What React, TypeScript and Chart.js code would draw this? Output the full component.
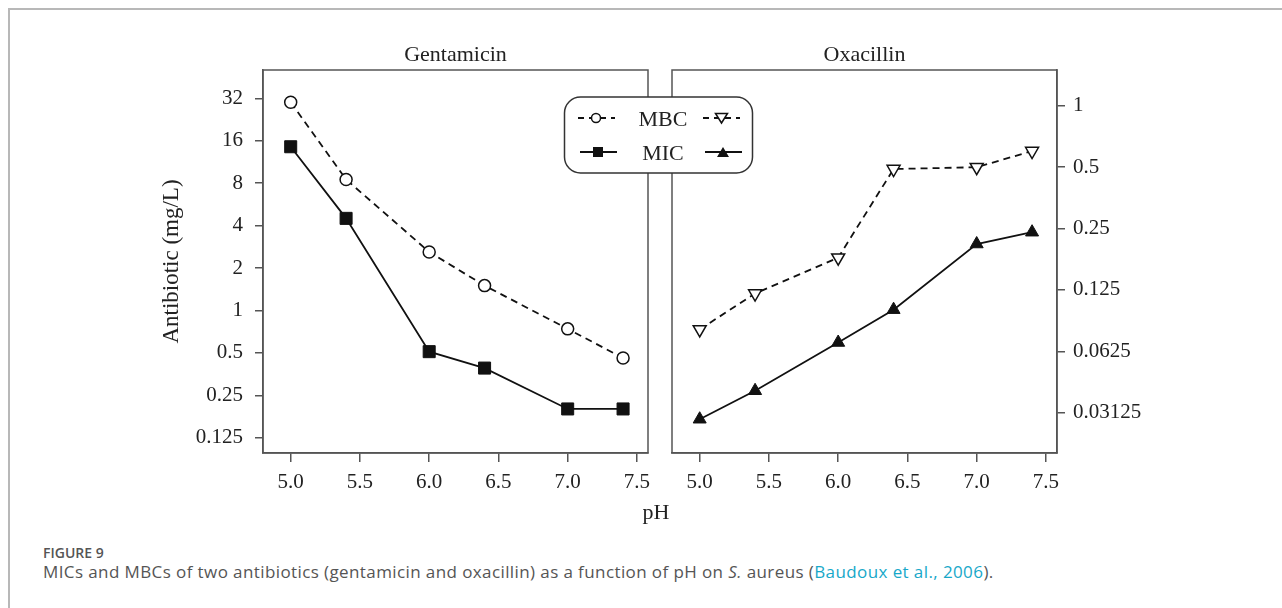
import React, { useEffect, useRef } from "react";
import { Chart, registerables } from "chart.js";

Chart.register(...registerables);

const pH = [5.0, 5.4, 6.0, 6.4, 7.0, 7.4];
const gentMBC = [30, 8.5, 2.6, 1.5, 0.74, 0.46];
const gentMIC = [14.5, 4.5, 0.51, 0.39, 0.2, 0.2];
const oxaMBC = [0.08, 0.12, 0.18, 0.49, 0.5, 0.6];
const oxaMIC = [0.029, 0.04, 0.069, 0.1, 0.21, 0.24];

const xTicks = [5.0, 5.5, 6.0, 6.5, 7.0, 7.5];
const gentTicks = [32, 16, 8, 4, 2, 1, 0.5, 0.25, 0.125];
const gentTickLabels = ["32", "16", "8", "4", "2", "1", "0.5", "0.25", "0.125"];
const oxaTicks = [1, 0.5, 0.25, 0.125, 0.0625, 0.03125];
const oxaTickLabels = ["1", "0.5", "0.25", "0.125", "0.0625", "0.03125"];

const SERIF = "'Liberation Serif', 'Times New Roman', serif";
const INK = "#222";
const AXIS = "#555";

const boxPlugin = {
  id: "panelBox",
  afterDraw(chart: any, _args: any, opts: any) {
    const { ctx, chartArea } = chart;
    ctx.save();
    ctx.strokeStyle = AXIS;
    ctx.lineWidth = 1.5;
    ctx.strokeRect(chartArea.left, chartArea.top, chartArea.right - chartArea.left, chartArea.bottom - chartArea.top);
    if (opts && opts.text) {
      ctx.fillStyle = INK;
      ctx.font = `22px ${SERIF}`;
      ctx.textAlign = "center";
      ctx.textBaseline = "alphabetic";
      ctx.fillText(opts.text, (chartArea.left + chartArea.right) / 2, chartArea.top - 9);
    }
    ctx.restore();
  },
};

function makeConfig(
  title: string,
  mbc: number[],
  mic: number[],
  mbcStyle: any,
  micStyle: any,
  yTicks: number[],
  yLabels: string[],
  yMin: number,
  yMax: number,
  side: "left" | "right",
  yWidth: number,
  pad: any
) {
  return {
    type: "line",
    data: {
      datasets: [
        {
          label: "MBC",
          data: pH.map((x, i) => ({ x, y: mbc[i] })),
          borderColor: "#111",
          borderWidth: 1.8,
          borderDash: [7, 5],
          backgroundColor: "#fff",
          pointBorderColor: "#111",
          pointBorderWidth: 1.5,
          ...mbcStyle,
        },
        {
          label: "MIC",
          data: pH.map((x, i) => ({ x, y: mic[i] })),
          borderColor: "#111",
          borderWidth: 1.8,
          backgroundColor: "#111",
          pointBorderColor: "#111",
          pointBackgroundColor: "#111",
          pointBorderWidth: 1,
          ...micStyle,
        },
      ],
    },
    options: {
      responsive: false,
      animation: false,
      layout: { padding: pad },
      plugins: {
        legend: { display: false },
        tooltip: { enabled: false },
        panelBox: { text: title },
      },
      scales: {
        x: {
          type: "linear",
          min: 4.8,
          max: 7.58,
          afterBuildTicks: (s: any) => {
            s.ticks = xTicks.map((v) => ({ value: v }));
          },
          afterFit: (s: any) => {
            s.height = 47;
          },
          ticks: {
            callback: (v: any) => Number(v).toFixed(1),
            font: { family: SERIF, size: 21 },
            color: INK,
            padding: 8,
            maxRotation: 0,
          },
          grid: { drawOnChartArea: false, drawTicks: true, tickLength: 9, color: AXIS, lineWidth: 1.5 },
          border: { display: true, color: AXIS, width: 1.5 },
        },
        y: {
          type: "logarithmic",
          position: side,
          min: yMin,
          max: yMax,
          afterBuildTicks: (s: any) => {
            s.ticks = yTicks.map((v) => ({ value: v }));
          },
          afterFit: (s: any) => {
            s.width = yWidth;
          },
          ticks: {
            callback: (v: any) => {
              const i = yTicks.findIndex((t) => Math.abs(t - v) < t * 1e-6);
              return i >= 0 ? yLabels[i] : "";
            },
            font: { family: SERIF, size: 21 },
            color: INK,
            padding: side === "left" ? 12 : 8,
          },
          title:
            side === "left"
              ? {
                  display: true,
                  text: "Antibiotic (mg/L)",
                  font: { family: SERIF, size: 23 },
                  color: INK,
                  padding: { top: 8, bottom: 0 },
                }
              : { display: false },
          grid: { drawOnChartArea: false, drawTicks: true, tickLength: 8, color: AXIS, lineWidth: 1.5 },
          border: { display: true, color: AXIS, width: 1.5 },
        },
      },
    },
    plugins: [boxPlugin],
  } as any;
}

function Panel(props: { cfg: any; left: number; top: number; width: number; height: number }) {
  const ref = useRef<HTMLCanvasElement | null>(null);
  useEffect(() => {
    if (!ref.current) return;
    const chart = new Chart(ref.current, props.cfg);
    return () => chart.destroy();
  }, []);
  return (
    <canvas
      ref={ref}
      width={props.width}
      height={props.height}
      style={{ position: "absolute", left: props.left, top: props.top, width: props.width, height: props.height }}
    />
  );
}

function Legend() {
  const ink = "#111";
  return (
    <svg
      width={194}
      height={80}
      style={{ position: "absolute", left: 562, top: 95 }}
      xmlns="http://www.w3.org/2000/svg"
    >
      <rect x={2.5} y={2} width={188} height={76} rx={16} ry={16} fill="#fff" stroke="#333" strokeWidth={1.5} />
      <line x1={16} y1={23} x2={53} y2={23} stroke={ink} strokeWidth={1.8} strokeDasharray="6 5" />
      <circle cx={34} cy={23} r={4.5} fill="#fff" stroke={ink} strokeWidth={1.5} />
      <line x1={141} y1={23} x2={178} y2={23} stroke={ink} strokeWidth={1.8} strokeDasharray="6 5" />
      <polygon points="153.5,18.5 165.5,18.5 159.5,28" fill="#fff" stroke={ink} strokeWidth={1.5} />
      <line x1={18} y1={57} x2={55} y2={57} stroke={ink} strokeWidth={1.8} />
      <rect x={31} y={52} width={10} height={10} fill={ink} />
      <line x1={143} y1={57} x2={180} y2={57} stroke={ink} strokeWidth={1.8} />
      <polygon points="155,62 167,62 161,52" fill={ink} />
      <text x={101} y={31} textAnchor="middle" fontFamily={SERIF} fontSize={22} fill={INK}>
        MBC
      </text>
      <text x={101} y={65} textAnchor="middle" fontFamily={SERIF} fontSize={22} fill={INK}>
        MIC
      </text>
    </svg>
  );
}

export default function App() {
  const leftCfg = makeConfig(
    "Gentamicin",
    gentMBC,
    gentMIC,
    { pointStyle: "circle", pointRadius: 6, pointBackgroundColor: "#fff" },
    { pointStyle: "rect", pointRadius: 8.5 },
    gentTicks,
    gentTickLabels,
    0.0974,
    50.8,
    "left",
    113,
    { top: 30, right: 12, left: 0, bottom: 0 }
  );
  const rightCfg = makeConfig(
    "Oxacillin",
    oxaMBC,
    oxaMIC,
    { pointStyle: "triangle", pointRadius: 7.5, pointRotation: 180, pointBackgroundColor: "#fff" },
    { pointStyle: "triangle", pointRadius: 7.5 },
    oxaTicks,
    oxaTickLabels,
    0.0198,
    1.5,
    "right",
    123,
    { top: 30, right: 0, left: 12, bottom: 0 }
  );

  return (
    <div style={{ position: "absolute", left: 0, top: 0, width: 1282, height: 608, background: "#fff", overflow: "hidden" }}>
      <div
        style={{
          position: "absolute",
          left: 8,
          top: 8,
          width: 1300,
          height: 700,
          borderTop: "2px solid #b8b8b8",
          borderLeft: "2px solid #b8b8b8",
        }}
      />
      <Panel cfg={leftCfg} left={150} top={40} width={510} height={460} />
      <Panel cfg={rightCfg} left={660} top={40} width={520} height={460} />
      <Legend />
      <div
        style={{
          position: "absolute",
          left: 600,
          width: 112,
          top: 499,
          textAlign: "center",
          fontFamily: SERIF,
          fontSize: 22,
          color: INK,
        }}
      >
        pH
      </div>
      <div
        style={{
          position: "absolute",
          left: 43,
          top: 543,
          fontFamily: "'Open Sans', sans-serif",
          fontSize: 14,
          lineHeight: "normal",
          fontWeight: 600,
          color: "#555",
        }}
      >
        FIGURE 9
      </div>
      <div
        style={{
          position: "absolute",
          left: 43,
          top: 560,
          fontFamily: "'Open Sans', sans-serif",
          fontSize: 17,
          lineHeight: "normal",
          letterSpacing: 0.4,
          color: "#555",
          whiteSpace: "nowrap",
        }}
      >
        MICs and MBCs of two antibiotics (gentamicin and oxacillin) as a function of pH on <i>S.</i> aureus (
        <span style={{ color: "#17a8c9" }}>Baudoux et al., 2006</span>).
      </div>
    </div>
  );
}
